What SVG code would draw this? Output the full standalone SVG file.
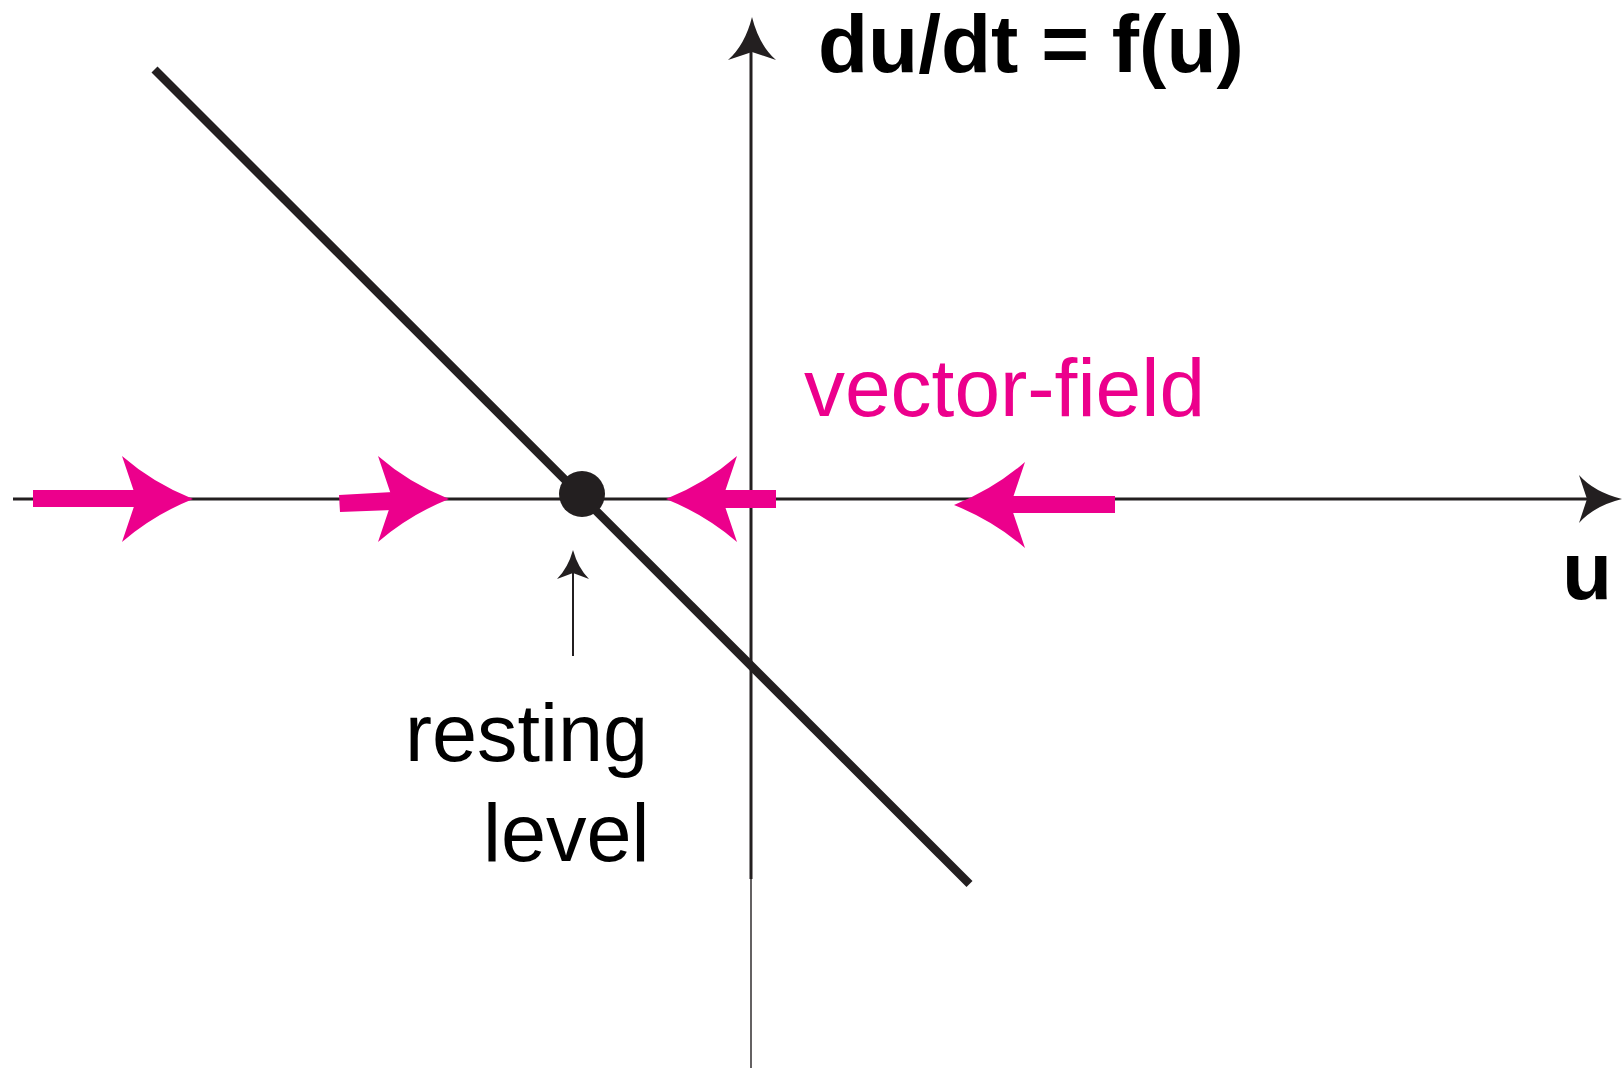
<svg xmlns="http://www.w3.org/2000/svg" xmlns:xlink="http://www.w3.org/1999/xlink" width="1622" height="1068" viewBox="0 0 1622 1068">
  <style>
    .axis { stroke: #231f20; fill: none; }
    .pink { fill: #EC008C; }
    .lbl { font-family: "Liberation Sans", Arial, sans-serif; font-size: 81px; }
    .bold { font-weight: bold; font-size: 82px; fill: #000; }
  </style>
  <defs>
    <path id="head" d="M0,0 Q-40,-16 -71,-43 L-56.5,0 L-71,43 Q-40,16 0,0 Z"/>
    <path id="axhead" d="M0,0 Q7,28 24,43 L0,35 L-24,43 Q-7,28 0,0 Z" fill="#231f20"/>
  </defs>
  <rect width="1622" height="1068" fill="#fff"/>

  <g id="connectors">
    <!-- horizontal u axis -->
    <line class="axis" x1="13" y1="499" x2="1600" y2="499" stroke-width="2.8"/>
    <use xlink:href="#axhead" transform="translate(1622,499) rotate(90)"/>
    <!-- vertical axis -->
    <line class="axis" x1="751" y1="50" x2="751" y2="879" stroke-width="3"/>
    <line class="axis" x1="751" y1="878" x2="751" y2="1068" stroke-width="1.4"/>
    <use xlink:href="#axhead" transform="translate(752,17)"/>
    <!-- f(u) line -->
    <line class="axis" x1="154.5" y1="69.5" x2="969.5" y2="884" stroke-width="8.5"/>
    <!-- resting level pointer -->
    <line class="axis" x1="573" y1="570" x2="573" y2="656" stroke-width="2"/>
    <path d="M573,550 Q578,568 589,579 L573,573 L557,579 Q568,568 573,550 Z" fill="#231f20"/>
  </g>

  <g id="vector-arrows">
    <g id="arrow1">
      <rect class="pink" x="33" y="490" width="104" height="17"/>
      <use class="pink" xlink:href="#head" transform="translate(193,499)"/>
    </g>
    <g id="arrow2">
      <polygon class="pink" points="339,495 393,492 393,510 340,512"/>
      <use class="pink" xlink:href="#head" transform="translate(449,499)"/>
    </g>
    <g id="arrow3">
      <rect class="pink" x="720" y="490" width="56" height="18"/>
      <use class="pink" xlink:href="#head" transform="translate(666,499) scale(-1,1)"/>
    </g>
    <g id="arrow4">
      <rect class="pink" x="1010" y="496" width="105" height="17"/>
      <use class="pink" xlink:href="#head" transform="translate(954,505) scale(-1,1)"/>
    </g>
  </g>

  <g id="equilibrium">
    <circle cx="582" cy="494" r="23" fill="#231f20"/>
  </g>

  <g id="labels">
    <text class="lbl bold" x="818" y="72">du/dt = f(u)</text>
    <text class="lbl bold" x="1562" y="599">u</text>
    <text class="lbl" x="804" y="416" fill="#EC008C" style="font-size:82px">vector-field</text>
    <text class="lbl" x="405" y="761" fill="#000">resting</text>
    <text class="lbl" x="483" y="861" fill="#000">level</text>
  </g>
</svg>
